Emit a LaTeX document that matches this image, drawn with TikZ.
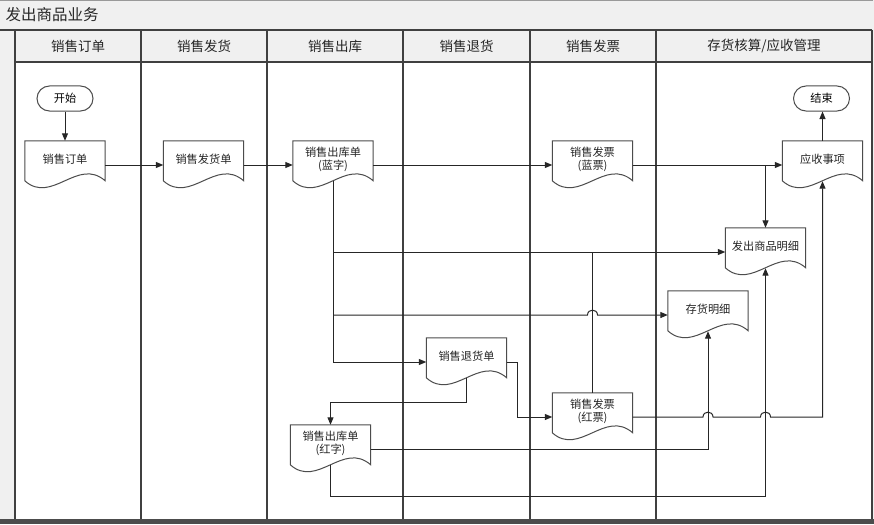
\documentclass[tikz,border=0pt]{standalone}
\usepackage{fontspec}
\setmainfont{Noto Sans CJK SC}
\usetikzlibrary{arrows.meta,calc}

\tikzset{
  lane/.style={line width=1.2pt,draw=black!75},
  head/.style={font=\fontsize{13.5}{15}\selectfont,text=black!85},
  doc/.style={minimum width=80pt,minimum height=36pt,inner sep=0pt,align=center,
    font=\fontsize{11.2}{13}\selectfont,text=black!85},
  docline/.style={line width=1pt,draw=black!70},
  term/.style={draw=black!70,line width=1pt,rounded corners=12.5pt,minimum width=56pt,
    minimum height=25pt,inner sep=0pt,font=\fontsize{11.2}{13}\selectfont},
  flow/.style={line width=1pt,draw=black!85},
}

% outline of a document box, plus its connection points
\newcommand{\docframe}[1]{%
  \draw[docline] (#1.north west) -- (#1.north east) -- ($(#1.north east)+(0,40)$)
    .. controls ($(#1.north west)+(53,16)$) and ($(#1.north west)+(27,64)$)
    .. ($(#1.north west)+(0,40)$) -- cycle;
  \coordinate (#1-l) at ($(#1.west)+(0,6)$);
  \coordinate (#1-r) at ($(#1.east)+(0,6)$);
  \coordinate (#1-b) at ($(#1.south)+(0,4)$);}

\begin{document}
\begin{tikzpicture}[x=1pt,y=-1pt,>={Triangle[length=7.5pt,width=6pt]}]
  \useasboundingbox (0,0) rectangle (874,524);

  % pool and lanes
  \fill[black!6] (0,0) rectangle (874,519);
  \fill[white] (15,62) rectangle (872,519);
  \fill[black!70] (0,519) rectangle (874,524);
  \draw[black!40] (0,0.5) -- (873,0.5);
  \draw[lane] (0,30) -- (872,30);
  \draw[lane] (15,62) -- (872,62);
  \foreach \x in {15,141,267,403,530,656,872}
    \draw[lane] (\x,30) -- (\x,519);
  \node[anchor=west,font=\fontsize{15.5}{17}\selectfont,text=black!85] (title) at (2,15) {发出商品业务};
  \foreach \x/\t [count=\i] in {78/销售订单,204/销售发货,335/销售出库,466.5/销售退货,593/销售发票,764/{存货核算/应收管理}}
    \node[head] (head\i) at (\x,46) {\t};

  \node[term] (start) at (65,98.5) {开始};
  \node[term] (end) at (821.5,98.5) {结束};

  \node[doc] (ord) at (65,159) {销售订单};
  \node[doc] (ship) at (203.5,159) {销售发货单};
  \node[doc] (outb) at (333,159) {销售出库单\\(蓝字)};
  \node[doc] (invb) at (592.5,159) {销售发票\\(蓝票)};
  \node[doc] (recv) at (822.5,159) {应收事项};
  \node[doc] (detail) at (765.5,246) {发出商品明细};
  \node[doc] (stock) at (708,309) {存货明细};
  \node[doc] (ret) at (466.5,356) {销售退货单};
  \node[doc] (invr) at (592.5,411) {销售发票\\(红票)};
  \node[doc] (outr) at (330.5,443) {销售出库单\\(红字)};
  \foreach \n in {ord,ship,outb,invb,recv,detail,stock,ret,invr,outr}
    \docframe{\n};

  \draw[flow,->] (start) -- (ord);
  \draw[flow,->] (ord-r) -- (ship-l);
  \draw[flow,->] (ship-r) -- (outb-l);
  \draw[flow,->] (outb-r) -- (invb-l);
  \draw[flow,->] (invb-r) -- (recv-l);
  \draw[flow,->] (invb-r -| detail.north) -- (detail.north);
  \draw[flow,->] (recv.north) -- (recv.north |- end.south);

  \draw[flow,->] (outb-b) |- (ret-l);
  \draw[flow,->] (outb-b |- detail-l) -- (detail-l);
  \draw[flow,->] (outb-b |- stock-l) -- ($(invr.north |- stock-l)+(-5,0)$)
    .. controls +(0,-6.5) and +(0,-6.5) .. ++(10,0) -- (stock-l);
  \draw[flow] (invr.north) -- (invr.north |- detail-l);

  \draw[flow,->] (ret-r) -- ++(10.5,0) |- (invr-l);
  \draw[flow,->] (ret-b) -- ++(0,24) -| (outr.north);

  \draw[flow,->] (invr-r) -- ($(stock.south |- invr-r)+(-5,0)$)
    .. controls +(0,-6.5) and +(0,-6.5) .. ++(10,0)
    -- ($(detail.south |- invr-r)+(-5,0)$)
    .. controls +(0,-6.5) and +(0,-6.5) .. ++(10,0) -| (recv-b);
  \draw[flow,->] (outr-r) -| (stock-b);
  \draw[flow,->] (outr-b) -- ++(0,31) -| (detail-b);
\end{tikzpicture}
\end{document}
